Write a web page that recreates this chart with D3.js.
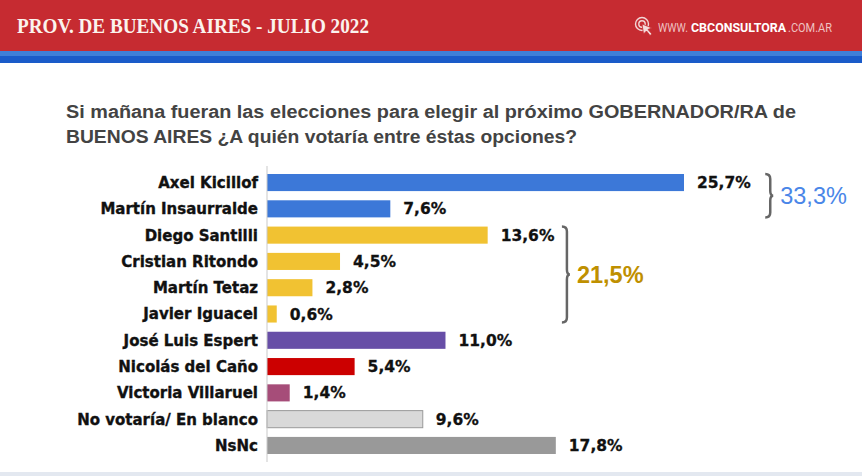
<!DOCTYPE html>
<html>
<head>
<meta charset="utf-8">
<script src="https://cdn.jsdelivr.net/npm/d3@7"></script>
<style>
  html, body { margin: 0; padding: 0; background: #fff; }
  svg { display: block; }
</style>
</head>
<body>
<div id="chart"></div>
<script>
// data
const categories = ['Axel Kicillof', 'Martín Insaurralde', 'Diego Santilli', 'Cristian Ritondo',
  'Martín Tetaz', 'Javier Iguacel', 'José Luis Espert', 'Nicolás del Caño', 'Victoria Villaruel',
  'No votaría/ En blanco', 'NsNc']
const values = [25.7, 7.6, 13.6, 4.5, 2.8, 0.6, 11.0, 5.4, 1.4, 9.6, 17.8]
const barColors = ['#3c78d8', '#3c78d8', '#f1c232', '#f1c232', '#f1c232', '#f1c232',
  '#674ea7', '#cc0000', '#a64d79', '#d9d9d9', '#999999']
const groupLabels = ['33,3%', '21,5%']
const groupMembers = [['Axel Kicillof', 'Martín Insaurralde'],
  ['Diego Santilli', 'Cristian Ritondo', 'Martín Tetaz', 'Javier Iguacel']]
const groupColors = ['#4a86e8', '#bf9000']

const fmt = v => d3.format('.1f')(v).replace('.', ',') + '%'

const width = 862, height = 476
const svg = d3.select('#chart').append('svg')
  .attr('width', width)
  .attr('height', height)

// header band
svg.append('rect').attr('x', 0).attr('y', 0).attr('width', width).attr('height', 51).attr('fill', '#c62b31')
svg.append('rect').attr('x', 0).attr('y', 51).attr('width', width).attr('height', 5).attr('fill', '#3f7fd8')
svg.append('rect').attr('x', 0).attr('y', 56).attr('width', width).attr('height', 7).attr('fill', '#1a5bc9')
svg.append('rect').attr('x', 0).attr('y', 472).attr('width', width).attr('height', 4).attr('fill', '#e3e8f0')

svg.append('text')
  .attr('x', 17).attr('y', 33)
  .attr('textLength', 352).attr('lengthAdjust', 'spacingAndGlyphs')
  .style('font-family', '"Liberation Serif", "DejaVu Serif", serif')
  .style('font-weight', 'bold')
  .style('font-size', '20px')
  .attr('fill', '#fbf3ee')
  .text('PROV. DE BUENOS AIRES - JULIO 2022')

// little site logo
const logo = svg.append('g').attr('transform', 'translate(642,24)')
  .attr('fill', 'none').attr('stroke', '#f2d6d6').attr('stroke-width', 1.4)
logo.append('circle').attr('r', 6.5)
logo.append('circle').attr('r', 3.2)
logo.append('path').attr('d', 'M0,0 L10,4 L6,5.5 L10,10 L8,11.5 L4.5,7 L1.5,10 Z')
  .attr('fill', '#f4dada').attr('stroke', '#c62b31').attr('stroke-width', 0.8)

const siteParts = ['WWW.', 'CBCONSULTORA', '.COM.AR']
const siteX = [658, 691, 788]
const siteW = [30, 95, 44]
svg.selectAll('text.site')
  .data(siteParts)
  .join('text')
  .attr('class', 'site')
  .attr('x', (d, i) => siteX[i])
  .attr('y', 32)
  .attr('textLength', (d, i) => siteW[i])
  .attr('lengthAdjust', 'spacingAndGlyphs')
  .style('font-family', 'Roboto, "Liberation Sans", sans-serif')
  .style('font-weight', (d, i) => i === 1 ? 'bold' : 'normal')
  .style('font-size', '12.5px')
  .attr('fill', (d, i) => i === 1 ? '#ffffff' : '#efc2c2')
  .text(d => d)

// question
const question = ['Si mañana fueran las elecciones para elegir al próximo GOBERNADOR/RA de',
  'BUENOS AIRES ¿A quién votaría entre éstas opciones?']
svg.selectAll('text.question')
  .data(question)
  .join('text')
  .attr('class', 'question')
  .attr('x', 66)
  .attr('y', (d, i) => 118 + i * 25)
  .attr('textLength', (d, i) => i === 0 ? 730 : 511)
  .attr('lengthAdjust', 'spacingAndGlyphs')
  .style('font-family', '"Liberation Sans", Arial, sans-serif')
  .style('font-weight', 'bold')
  .style('font-size', '17.5px')
  .attr('fill', '#434343')
  .text(d => d)

// scales
const x = d3.scaleLinear()
  .domain([0, 25.7])
  .range([267, 684])

const y = d3.scaleBand()
  .domain(categories)
  .range([169.4, 458.6])
  .paddingInner(0.35)
  .paddingOuter(0.175)

const data = categories.map((c, i) => ({ name: c, value: values[i], color: barColors[i] }))

// bars
svg.append('g').selectAll('rect')
  .data(data)
  .join('rect')
  .attr('x', x(0))
  .attr('y', d => y(d.name))
  .attr('width', d => x(d.value) - x(0))
  .attr('height', y.bandwidth())
  .attr('fill', d => d.color)
  .attr('stroke', d => d.name === 'No votaría/ En blanco' ? '#999' : 'none')
  .attr('stroke-width', 1)

// axis line
svg.append('line')
  .attr('x1', x(0)).attr('x2', x(0))
  .attr('y1', 166).attr('y2', 462)
  .attr('stroke', '#c9c9c9').attr('stroke-width', 1)

// category labels
svg.append('g').selectAll('text')
  .data(data)
  .join('text')
  .attr('x', x(0) - 9)
  .attr('y', d => y(d.name) + y.bandwidth() / 2)
  .attr('dy', '0.36em')
  .attr('text-anchor', 'end')
  .style('font-family', '"DejaVu Sans", sans-serif')
  .style('font-weight', 'bold')
  .style('font-size', '15px')
  .style('stroke', '#111').style('stroke-width', 0.35)
  .attr('fill', '#111')
  .text(d => d.name)

// value labels
const valueLabels = svg.append('g').selectAll('text')
  .data(data)
  .join('text')
  .attr('x', d => x(d.value) + 13)
  .attr('y', d => y(d.name) + y.bandwidth() / 2)
  .attr('dy', '0.36em')
  .style('font-family', '"DejaVu Sans", sans-serif')
  .style('font-weight', 'bold')
  .style('font-size', '15.5px')
  .style('stroke', '#111').style('stroke-width', 0.3)
  .attr('fill', '#111')
  .text(d => fmt(d.value))

// braces with group totals
const labelEnd = {}
valueLabels.each(function (d) { labelEnd[d.name] = this.getBBox().x + this.getBBox().width })

function bracePath(bx, y0, y1, w) {
  const m = (y0 + y1) / 2
  const r = Math.min(w, 6)
  return `M${bx},${y0} Q${bx + r},${y0} ${bx + r},${y0 + r}` +
    ` L${bx + r},${m - r} Q${bx + r},${m} ${bx + w * 1.6},${m}` +
    ` Q${bx + r},${m} ${bx + r},${m + r}` +
    ` L${bx + r},${y1 - r} Q${bx + r},${y1} ${bx},${y1}`
}

const gapAfter = [14, 7]
groupMembers.forEach((members, gi) => {
  const bx = d3.max(members, m => labelEnd[m]) + gapAfter[gi]
  const y0 = y(members[0])
  const y1 = y(members[members.length - 1]) + y.bandwidth()
  svg.append('path')
    .attr('d', bracePath(bx, y0, y1, 5))
    .attr('fill', 'none')
    .attr('stroke', '#666')
    .attr('stroke-width', 2.5)
  svg.append('text')
    .attr('x', bx + 15)
    .attr('y', (y0 + y1) / 2)
    .attr('dy', '0.36em')
    .style('font-family', '"Liberation Sans", Arial, sans-serif')
    .style('font-weight', gi === 1 ? 'bold' : 'normal')
    .style('font-size', '23.5px')
    .attr('fill', groupColors[gi])
    .text(groupLabels[gi])
})
</script>
</body>
</html>
